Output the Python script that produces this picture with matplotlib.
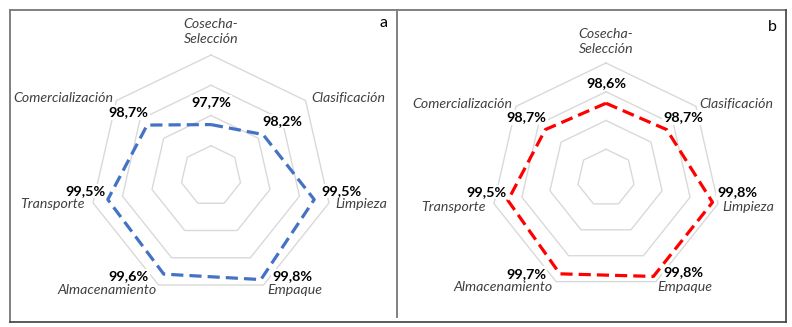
import numpy as np
import matplotlib
matplotlib.use("Agg")
import matplotlib.pyplot as plt
from matplotlib.lines import Line2D

# ---------------- data ----------------
categories = ['Cosecha-\nSelección', 'Clasificación', 'Limpieza', 'Empaque',
              'Almacenamiento', 'Transporte', 'Comercialización']
values_a = [97.7, 98.2, 99.5, 99.8, 99.6, 99.5, 98.7]
values_b = [98.6, 98.7, 99.8, 99.8, 99.7, 99.5, 98.7]
ring_levels = [97, 98, 99, 100]
r_min, r_max = 96, 100
panel_tags = ['a', 'b']

W, H = 792, 327
fig = plt.figure(figsize=(W / 100, H / 100), dpi=100)
fig.patch.set_facecolor('white')

FONT = 'Lato'
CAT_COLOR = '#404040'
GRID_COLOR = '#D9D9D9'


def fig_axes(cx, cy, R):
    return [(cx - R) / W, (H - cy - R) / H, 2 * R / W, 2 * R / H]


# per-panel layout (pixel offsets of text relative to anchors)
layouts = [
    dict(center=(211, 176), R=121, color='#4472C4',
         cat_off=[(0, 23.5), (6, 3), (6, -1), (3.5, -5), (-1.5, -5), (-8, -1), (-3.4, 2.6)],
         val_off=[(0, 22.6), (19, 13.5), (27.5, 8.6), (32, 3), (-35, -2), (-22.8, 8.6), (-19, 13)],
         tag_pos=(384, 23)),
    dict(center=(606, 178), R=115, color='#FF0000',
         cat_off=[(0, 22), (3.4, 2.3), (4.6, -3.4), (1.8, -5.4), (-3.4, -5.4), (-8, -3.4), (-3.4, 2.3)],
         val_off=[(0, 20), (16.3, 12.2), (25, 10), (29.6, 3.9), (-33.8, 0), (-21, 8.4), (-18.5, 12.2)],
         tag_pos=(772, 27)),
]

n = len(categories)
theta = np.arange(n) * 2 * np.pi / n
theta_closed = np.append(theta, theta[0])

cat_ha = ['center', 'left', 'left', 'left', 'right', 'right', 'right']

for values, lay, tag in zip([values_a, values_b], layouts, panel_tags):
    ax = fig.add_axes(fig_axes(*lay['center'], lay['R']), projection='polar')
    ax.set_theta_zero_location('N')
    ax.set_theta_direction(-1)
    ax.axis('off')
    # heptagon grid rings
    for lvl in ring_levels:
        ax.plot(theta_closed, [lvl] * (n + 1), color=GRID_COLOR, lw=1.0,
                clip_on=False, zorder=1)
    # data polygon
    vals_closed = np.append(values, values[0])
    ax.plot(theta_closed, vals_closed, color=lay['color'], lw=2.3,
            linestyle=(0, (3.8, 1.9)), dash_capstyle='butt',
            clip_on=False, zorder=3)
    ax.set_ylim(r_min, r_max)

    # category labels
    for i, cat in enumerate(categories):
        ax.annotate(cat, xy=(theta[i], r_max), xytext=lay['cat_off'][i],
                    textcoords='offset pixels', ha=cat_ha[i], va='center',
                    fontsize=10.2, fontstyle='italic', color=CAT_COLOR,
                    family=FONT, annotation_clip=False, linespacing=1.3,
                    zorder=4)
    # value labels
    for i, v in enumerate(values):
        txt = f"{v:.1f}%".replace('.', ',')
        ax.annotate(txt, xy=(theta[i], v), xytext=lay['val_off'][i],
                    textcoords='offset pixels', ha='center', va='center',
                    fontsize=10.4, fontweight='bold', color='black',
                    family=FONT, annotation_clip=False, zorder=5,
                    bbox=dict(boxstyle='square,pad=0.1', fc='white', ec='none'))
    # panel tag
    tx, ty = lay['tag_pos']
    fig.text(tx / W, 1 - ty / H, tag, ha='center', va='center',
             fontsize=11.5, color='black', family=FONT)

# frame lines (figure pixel coordinates)
def fline(x0, y0, x1, y1, color, lw):
    fig.add_artist(Line2D([x0 / W, x1 / W], [1 - y0 / H, 1 - y1 / H],
                          transform=fig.transFigure, color=color, lw=lw,
                          solid_capstyle='projecting'))

fline(9.5, 9.5, 785.5, 9.5, '#808080', 1.4)
fline(9.5, 9.5, 9.5, 321.5, '#808080', 1.4)
fline(396.5, 9.5, 396.5, 317, '#808080', 1.4)
fline(785.5, 9.5, 785.5, 321.5, '#404040', 1.2)
fline(9.5, 321.5, 785.5, 321.5, '#404040', 1.2)

fig.savefig('out.png', dpi=100)
